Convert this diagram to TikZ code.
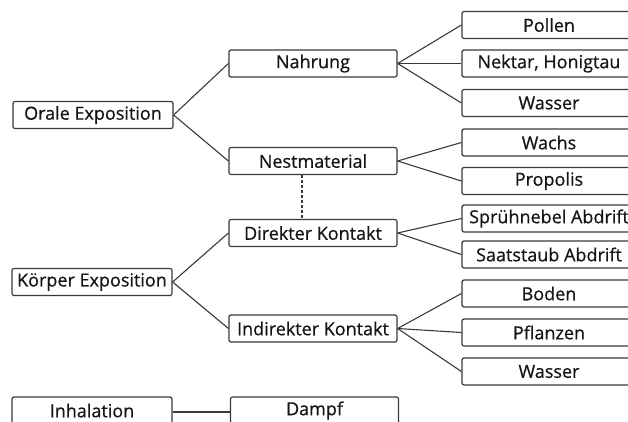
\documentclass[tikz,border=0pt]{standalone}
\usepackage{fontspec}
\setmainfont{Open Sans}[FakeBold=0.6]
\definecolor{edge}{HTML}{3A3A3A}
\definecolor{txt}{HTML}{151515}
\begin{document}
\begin{tikzpicture}[x=1pt,y=-1pt,
  box/.style={draw=edge, line width=1.2pt, rounded corners=2pt, fill=white,
    text=txt, inner sep=0pt, minimum height=27pt, font=\fontsize{18}{20}\selectfont},
  lbox/.style={box, minimum width=160pt},
  mbox/.style={box, minimum width=168pt},
  rbox/.style={box, minimum width=174pt},
  link/.style={draw=edge, line width=1.1pt}]
\useasboundingbox[clip] (0,0) rectangle (628,421);
\fill[white] (0,0) rectangle (628,421);
% left column
\node[lbox] (orale) at (93,115) {Orale Exposition};
\node[lbox] (koerper) at (92,282) {Körper Exposition};
\node[lbox] (inhal) at (92,410.5) {Inhalation};
% middle column
\node[mbox] (nahrung) at (313,63.5) {Nahrung};
\node[mbox] (nest) at (313,161) {Nestmaterial};
\node[mbox] (direkt) at (313,233) {Direkter Kontakt};
\node[mbox] (indirekt) at (313,328.5) {Indirekter Kontakt};
\node[mbox] (dampf) at (314.5,410.5) {Dampf};
% right column
\node[rbox] (pollen) at (549,25) {Pollen};
\node[rbox] (nektar) at (549,63.5) {Nektar, Honigtau};
\node[rbox] (wasser1) at (549,103) {Wasser};
\node[rbox] (wachs) at (549,142.5) {Wachs};
\node[rbox] (propolis) at (549,181) {Propolis};
\node[rbox] (spruehnebel) at (549,218.5) {Sprühnebel Abdrift};
\node[rbox] (saatstaub) at (549,254.5) {Saatstaub Abdrift};
\node[rbox] (boden) at (549,293.5) {Boden};
\node[rbox] (pflanzen) at (549,332.5) {Pflanzen};
\node[rbox] (wasser2) at (549,371.5) {Wasser};
% connectors
\path[link] (orale.east) -- (nahrung.west);
\path[link] (orale.east) -- (nest.west);
\path[link] (koerper.east) -- (direkt.west);
\path[link] (koerper.east) -- (indirekt.west);
\path[link] ([yshift=-1.5pt]inhal.east) -- ([yshift=-1.5pt]dampf.west);
\path[link] (nahrung.east) -- (pollen.west);
\path[link] (nahrung.east) -- (nektar.west);
\path[link] (nahrung.east) -- (wasser1.west);
\path[link] (nest.east) -- (wachs.west);
\path[link] (nest.east) -- (propolis.west);
\path[link] (direkt.east) -- (spruehnebel.west);
\path[link] (direkt.east) -- (saatstaub.west);
\path[link] (indirekt.east) -- (boden.west);
\path[link] (indirekt.east) -- (pflanzen.west);
\path[link] (indirekt.east) -- (wasser2.west);
\path[link, dash pattern=on 3pt off 2pt] ([xshift=-11pt]nest.south) -- ([xshift=-11pt]direkt.north);
\end{tikzpicture}
\end{document}
